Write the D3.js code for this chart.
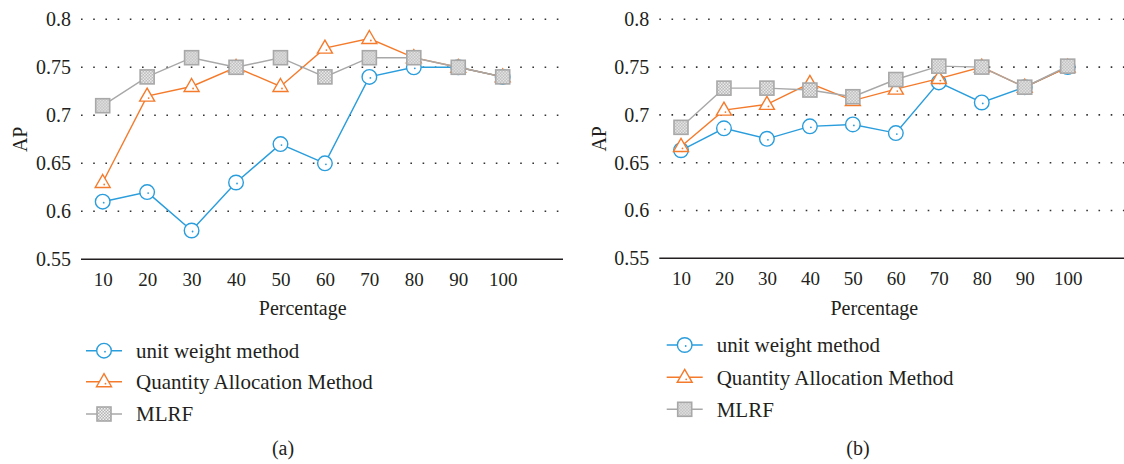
<!DOCTYPE html>
<html>
<head>
<meta charset="utf-8">
<script src="https://cdn.jsdelivr.net/npm/d3@7"></script>
<style>
  body { margin: 0; background: #fff; }
  svg text { font-family: "Liberation Serif", "Times New Roman", Tinos, Times, "DejaVu Serif", "Noto Serif", serif !important; fill: #231f20; }
</style>
</head>
<body>
<svg id="canvas"></svg>
<script>
const percentages = [10, 20, 30, 40, 50, 60, 70, 80, 90, 100];
const yTicks = [0.55, 0.6, 0.65, 0.7, 0.75, 0.8];
const seriesNames = ["unit weight method", "Quantity Allocation Method", "MLRF"];

// panel (a)
const unitA = [0.61, 0.62, 0.58, 0.63, 0.67, 0.65, 0.74, 0.75, 0.75, 0.74];
const quantA = [0.63, 0.72, 0.73, 0.75, 0.73, 0.77, 0.78, 0.76, 0.75, 0.74];
const mlrfA = [0.71, 0.74, 0.76, 0.75, 0.76, 0.74, 0.76, 0.76, 0.75, 0.74];

// panel (b)
const unitB = [0.663, 0.686, 0.675, 0.688, 0.690, 0.681, 0.734, 0.713, 0.729, 0.750];
const quantB = [0.667, 0.705, 0.711, 0.733, 0.715, 0.727, 0.738, 0.750, 0.729, 0.750];
const mlrfB = [0.687, 0.728, 0.728, 0.726, 0.719, 0.737, 0.751, 0.750, 0.729, 0.751];

const colors = ["#2a9ddc", "#f47b2c", "#a8a8a8"];
const serif = '"Liberation Serif", "Times New Roman", Tinos, Times, "DejaVu Serif", serif';

const width = 1124, height = 464;
const svg = d3.select("#canvas").attr("width", width).attr("height", height);

// checkered fill for the MLRF squares
const defs = svg.append("defs");
const pat = defs.append("pattern")
    .attr("id", "checker")
    .attr("width", 3).attr("height", 3)
    .attr("patternUnits", "userSpaceOnUse");
pat.append("rect").attr("width", 3).attr("height", 3).attr("fill", "#b3b3b3");
pat.append("rect").attr("width", 1.5).attr("height", 1.5).attr("fill", "#f2f2f2");
pat.append("rect").attr("x", 1.5).attr("y", 1.5).attr("width", 1.5).attr("height", 1.5).attr("fill", "#f2f2f2");

function drawMarker(g, type, color) {
    if (type === 0) {
        g.append("circle").attr("r", 7.3)
            .attr("fill", "#fff").attr("stroke", color).attr("stroke-width", 1.4);
        g.append("circle").attr("r", 0.9).attr("cx", 1).attr("cy", 1).attr("fill", color);
    } else if (type === 1) {
        g.append("path").attr("d", "M0,-8L7.5,5L-7.5,5Z")
            .attr("fill", "#fff").attr("stroke", color).attr("stroke-width", 1.4);
        g.append("circle").attr("r", 0.9).attr("cx", 1.5).attr("cy", 2).attr("fill", color);
    } else {
        g.append("rect").attr("x", -7).attr("y", -7).attr("width", 14).attr("height", 14)
            .attr("fill", "url(#checker)").attr("stroke", color).attr("stroke-width", 1.6);
    }
}

function drawPanel(p) {
    const x = d3.scaleLinear().domain([10, 100]).range([p.x0, p.x1]);
    const y = d3.scaleLinear().domain([0.55, 0.8]).range([p.yBottom, p.yTop]);

    const g = svg.append("g");

    // dotted grid
    g.selectAll(".grid")
        .data(yTicks.filter(d => d > 0.55))
        .enter().append("line")
        .attr("x1", p.axisStart).attr("x2", p.axisEnd)
        .attr("y1", d => y(d)).attr("y2", d => y(d))
        .attr("stroke", "#333")
        .attr("stroke-width", 1.6)
        .attr("stroke-dasharray", "1.6,10.6");

    // baseline
    g.append("line")
        .attr("x1", p.axisStart).attr("x2", p.axisEnd)
        .attr("y1", y(0.55)).attr("y2", y(0.55))
        .attr("stroke", "#231f20").attr("stroke-width", 1.6);

    // y tick labels
    const yAxis = g.append("g")
        .attr("transform", `translate(${p.axisStart - 10},0)`)
        .call(d3.axisLeft(y).tickValues(yTicks).tickSize(0).tickPadding(0)
            .tickFormat(d => d3.format("")(+d.toFixed(2))));
    yAxis.attr("font-family", serif);
    yAxis.select(".domain").remove();
    yAxis.selectAll("text").style("font-size", "20px").attr("fill", "#231f20");

    // x tick labels
    const xAxis = g.append("g")
        .attr("transform", `translate(0,${y(0.55) + 13})`)
        .call(d3.axisBottom(x).tickValues(percentages).tickSize(0).tickPadding(0)
            .tickFormat(d3.format("d")));
    xAxis.attr("font-family", serif);
    xAxis.select(".domain").remove();
    xAxis.selectAll("text").style("font-size", "19px").attr("fill", "#231f20");

    // axis titles
    g.append("text")
        .attr("x", (p.x0 + p.x1) / 2).attr("y", 315)
        .attr("text-anchor", "middle")
        .style("font-size", "20px")
        .text("Percentage");
    g.append("text")
        .attr("transform", `translate(${p.apX},${(p.yTop + p.yBottom) / 2}) rotate(-90)`)
        .attr("text-anchor", "middle")
        .attr("dy", "0.35em")
        .style("font-size", "20px")
        .text("AP");

    // lines + markers, MLRF drawn on top
    const line = d3.line().x((d, i) => x(percentages[i])).y(d => y(d));
    p.series.forEach((vals, si) => {
        g.append("path")
            .datum(vals)
            .attr("d", line)
            .attr("fill", "none")
            .attr("stroke", colors[si])
            .attr("stroke-width", 1.4);
        vals.forEach((v, i) => {
            const m = g.append("g").attr("transform", `translate(${x(percentages[i])},${y(v)})`);
            drawMarker(m, si, colors[si]);
        });
    });

    // legend
    const leg = svg.append("g");
    seriesNames.forEach((name, i) => {
        const ly = p.legY[i];
        leg.append("line")
            .attr("x1", p.legX).attr("x2", p.legX + 36)
            .attr("y1", ly).attr("y2", ly)
            .attr("stroke", colors[i]).attr("stroke-width", 1.4);
        const m = leg.append("g").attr("transform", `translate(${p.legX + 18},${ly})`);
        drawMarker(m, i, colors[i]);
        leg.append("text")
            .attr("x", p.legX + 50).attr("y", ly)
            .attr("dy", "0.35em")
            .style("font-size", "21px")
            .text(name);
    });

    svg.append("text")
        .attr("x", p.capX).attr("y", 448)
        .attr("dy", "0.35em")
        .attr("text-anchor", "middle")
        .style("font-size", "20px")
        .text(p.caption);
}

drawPanel({
    x0: 102.7, x1: 502.7, axisStart: 81, axisEnd: 563,
    yTop: 19.3, yBottom: 259.3, apX: 20,
    series: [unitA, quantA, mlrfA],
    legX: 86, legY: [350.7, 381.7, 414],
    capX: 283, caption: "(a)"
});

drawPanel({
    x0: 681, x1: 1067.7, axisStart: 659.3, axisEnd: 1124,
    yTop: 19.3, yBottom: 258.3, apX: 599,
    series: [unitB, quantB, mlrfB],
    legX: 666.7, legY: [345, 377.3, 409.3],
    capX: 858, caption: "(b)"
});
</script>
</body>
</html>
